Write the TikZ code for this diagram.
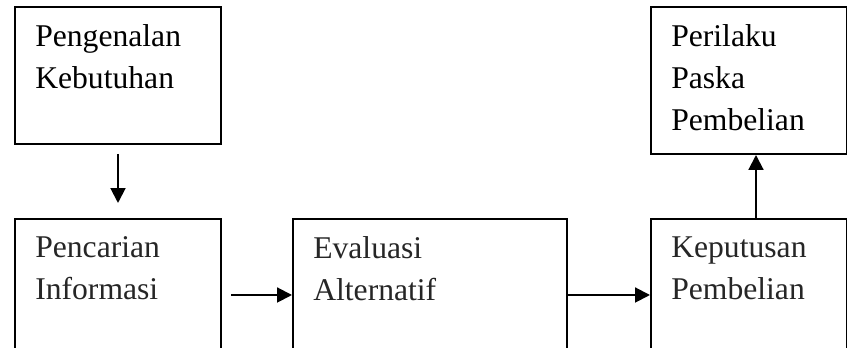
\documentclass[tikz,border=0pt]{standalone}
\usepackage{fontspec}
\setmainfont{Liberation Serif}
\usetikzlibrary{arrows.meta}

\begin{document}
\begin{tikzpicture}[
		box/.style={draw, line width=0.5mm, rectangle, inner sep=0pt, anchor=north west},
		boxtxt/.style={anchor=north west, inner sep=0pt, align=left, xshift=0.525cm, yshift=-0.46cm,
			font=\fontsize{22.5}{30}\selectfont},
		arr/.style={line width=0.5mm, -{Triangle[length=0.37cm, width=0.37cm]}}
	]
		%%%%% FRAME %%%%%
		
		\useasboundingbox (0, 0) rectangle (21.175, 8.7);
		\clip (0, 0) rectangle (21.175, 8.7);
		
		%%%%% BOXES %%%%%
		
		\node[box, minimum width=5.15cm, minimum height=3.425cm,
			label={[boxtxt]north west:{Pengenalan\\Kebutuhan}}] (pk) at (0.35, 8.55) {};
		\node[box, minimum width=5.15cm, minimum height=3.8cm,
			label={[boxtxt, text=black!85]north west:{Pencarian\\Informasi}}] (pi) at (0.35, 3.25) {};
		\node[box, minimum width=6.85cm, minimum height=3.8cm,
			label={[boxtxt, text=black!85]north west:{Evaluasi\\Alternatif}}] (ea) at (7.3, 3.25) {};
		\node[box, minimum width=4.9cm, minimum height=3.8cm,
			label={[boxtxt, text=black!85]north west:{Keputusan\\Pembelian}}] (kp) at (16.25, 3.25) {};
		\node[box, minimum width=4.9cm, minimum height=3.675cm,
			label={[boxtxt]north west:{Perilaku\\Paska\\Pembelian}}] (pp) at (16.25, 8.55) {};
		
		%%%%% ARROWS %%%%%
		
		\draw[arr, shorten <=0.225cm, shorten >=0.375cm] (pk.south) -- (pi.north);
		\draw[arr, shorten <=0.225cm] (pi.east) -- (ea.west);
		\draw[arr] (ea.east) -- (kp.west);
		\draw[arr] ([xshift=0.175cm]kp.north) -- ([xshift=0.175cm]pp.south);
		
		%%%%% END %%%%%
	\end{tikzpicture}
\end{document}
